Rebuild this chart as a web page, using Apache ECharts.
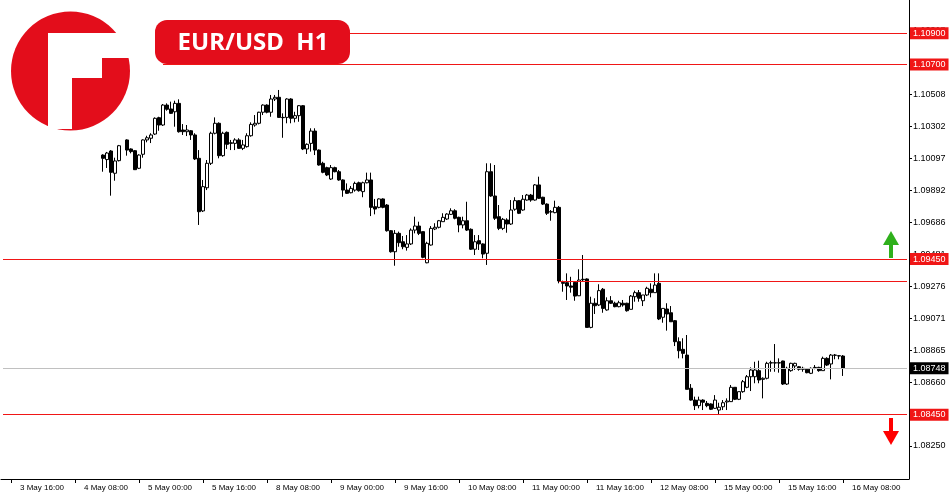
<!DOCTYPE html>
<html>
<head>
<meta charset="utf-8">
<title>EUR/USD H1</title>
<script src="https://cdn.jsdelivr.net/npm/echarts@6/dist/echarts.min.js"></script>
<style>
  html, body { margin: 0; padding: 0; background: #fff; }
  #chart { width: 950px; height: 500px; }
</style>
</head>
<body>
<div id="chart"></div>
<script>
// H1 bars, weekend hours skipped. slot 0 = 3 May 14:00, first bar sits in slot 25
var firstHour = Date.UTC(2023, 4, 3, 14);
var slotCount = 227;
var firstBarSlot = 25;

var opens = [1.10118,1.10089,1.10144,1.10001,1.10082,null,1.10215,1.10157,1.10146,1.10033,1.10123,1.10215,1.10226,1.10253,1.10358,1.10311,1.10439,1.10414,1.10396,1.10450,
  1.10279,1.10268,1.10274,1.10247,1.10097,1.09759,1.09908,1.10065,1.10258,1.10322,1.10114,1.10264,1.10197,1.10193,1.10215,1.10161,1.10172,1.10242,1.10311,1.10322,
  1.10393,1.10439,1.10393,1.10478,1.10489,1.10360,1.10360,1.10478,1.10354,1.10371,1.10435,1.10157,1.10193,1.10272,1.10150,1.10065,1.10037,1.09964,1.10037,1.10011,
  1.09958,1.09893,1.09876,1.09893,1.09940,1.09883,1.09940,1.09958,1.09786,1.09782,1.09836,1.09797,1.09632,1.09497,1.09615,1.09561,1.09525,1.09547,1.09636,1.09662,
  1.09626,1.09426,1.09540,1.09643,1.09654,1.09690,1.09707,1.09737,1.09760,1.09718,1.09669,1.09696,1.09641,1.09513,1.09568,1.09547,1.09487,1.10011,1.09855,1.09722,
  1.09647,1.09701,1.09675,1.09770,1.09825,1.09765,1.09829,1.09861,1.09829,1.09926,1.09847,1.09803,1.09754,1.09748,1.09782,1.09300,1.09298,1.09277,1.09300,1.09214,
  1.09320,1.09322,1.09011,1.09166,1.09155,1.09256,1.09123,1.09182,1.09166,1.09144,1.09166,1.09166,1.09127,1.09208,1.09234,1.09182,1.09219,1.09256,1.09234,1.09294,
  1.09076,1.09129,1.09105,1.09054,1.08919,1.08870,1.08833,1.08620,1.08544,1.08508,1.08544,1.08523,1.08519,1.08491,1.08480,1.08501,1.08532,1.08534,1.08626,1.08549,
  1.08598,1.08626,1.08694,1.08694,1.08733,1.08677,1.08684,1.08784,1.08782,1.08784,1.08795,1.08647,1.08733,1.08763,1.08758,1.08748,1.08742,1.08716,1.08754,1.08754,
  1.08733,1.08812,1.08776,1.08833,1.08829,1.08827];
var highs = [1.10123,1.10138,1.10150,1.10101,1.10183,null,1.10219,1.10161,1.10150,1.10123,1.10219,1.10242,1.10258,1.10360,1.10364,1.10446,1.10450,1.10461,1.10467,1.10476,
  1.10317,1.10311,1.10279,1.10258,1.10150,1.09958,1.10086,1.10268,1.10360,1.10328,1.10268,1.10269,1.10215,1.10226,1.10226,1.10215,1.10258,1.10328,1.10375,1.10396,
  1.10444,1.10444,1.10504,1.10504,1.10536,1.10386,1.10483,1.10483,1.10396,1.10439,1.10439,1.10193,1.10290,1.10290,1.10154,1.10075,1.10043,1.10054,1.10043,1.10022,
  1.09962,1.09936,1.09919,1.09947,1.09947,1.09947,1.10005,1.10005,1.09836,1.09840,1.09840,1.09803,1.09636,1.09636,1.09626,1.09598,1.09604,1.09647,1.09722,1.09690,
  1.09626,1.09561,1.09662,1.09680,1.09701,1.09744,1.09744,1.09776,1.09770,1.09722,1.09722,1.09818,1.09647,1.09604,1.09604,1.09551,1.10065,1.10065,1.10054,1.09797,
  1.09714,1.09712,1.09829,1.09847,1.09829,1.09861,1.09868,1.09868,1.09932,1.09979,1.09850,1.09808,1.09765,1.09825,1.09791,1.09311,1.09358,1.09336,1.09304,1.09384,
  1.09476,1.09326,1.09208,1.09198,1.09288,1.09264,1.09204,1.09212,1.09176,1.09182,1.09187,1.09169,1.09219,1.09247,1.09251,1.09219,1.09272,1.09294,1.09358,1.09358,
  1.09133,1.09166,1.09148,1.09058,1.08947,1.08941,1.08962,1.08647,1.08566,1.08566,1.08549,1.08538,1.08523,1.08576,1.08527,1.08544,1.08555,1.08641,1.08626,1.08598,
  1.08673,1.08705,1.08754,1.08790,1.08797,1.08690,1.08790,1.08797,1.08904,1.08812,1.08797,1.08758,1.08784,1.08784,1.08763,1.08758,1.08748,1.08754,1.08769,1.08758,
  1.08823,1.08819,1.08840,1.08840,1.08833,1.08833];
var lows = [1.10011,1.10035,1.09857,1.09953,1.10077,null,1.10114,1.10129,1.10022,1.10028,1.10101,1.10200,1.10195,1.10247,1.10274,1.10305,1.10403,1.10382,1.10300,1.10262,
  1.10247,1.10240,1.10215,1.10086,1.09669,1.09752,1.09893,1.10054,1.10251,1.10097,1.10107,1.10157,1.10150,1.10150,1.10157,1.10150,1.10166,1.10236,1.10300,1.10315,
  1.10375,1.10386,1.10364,1.10465,1.10358,1.10229,1.10322,1.10322,1.10328,1.10332,1.10150,1.10125,1.10140,1.10118,1.10050,1.10001,1.09983,1.09958,1.10007,1.09953,
  1.09850,1.09868,1.09872,1.09883,1.09883,1.09847,1.09936,1.09726,1.09737,1.09776,1.09776,1.09626,1.09491,1.09407,1.09529,1.09513,1.09504,1.09540,1.09615,1.09604,
  1.09455,1.09423,1.09536,1.09636,1.09647,1.09690,1.09701,1.09733,1.09705,1.09622,1.09647,1.09630,1.09508,1.09476,1.09508,1.09455,1.09412,1.09850,1.09701,1.09636,
  1.09636,1.09619,1.09669,1.09760,1.09739,1.09760,1.09825,1.09818,1.09825,1.09836,1.09797,1.09733,1.09696,1.09744,1.09294,1.09240,1.09187,1.09234,1.09182,1.09212,
  1.09304,1.09011,1.09005,1.09097,1.09148,1.09105,1.09118,1.09161,1.09140,1.09140,1.09144,1.09112,1.09127,1.09176,1.09176,1.09148,1.09212,1.09204,1.09234,1.09058,
  1.09041,1.08990,1.09047,1.08891,1.08812,1.08812,1.08613,1.08540,1.08480,1.08491,1.08480,1.08498,1.08480,1.08487,1.08448,1.08480,1.08480,1.08532,1.08544,1.08544,
  1.08591,1.08620,1.08602,1.08652,1.08652,1.08555,1.08677,1.08726,1.08726,1.08720,1.08641,1.08641,1.08726,1.08737,1.08733,1.08726,1.08716,1.08711,1.08742,1.08726,
  1.08733,1.08763,1.08677,1.08806,1.08806,1.08699];
var closes = [1.10097,1.10131,1.10007,1.10080,1.10178,null,1.10150,1.10140,1.10024,1.10118,1.10215,1.10229,1.10247,1.10354,1.10311,1.10439,1.10412,1.10386,1.10450,1.10268,
  1.10268,1.10279,1.10247,1.10093,1.09754,1.09915,1.10065,1.10258,1.10322,1.10114,1.10258,1.10187,1.10193,1.10215,1.10161,1.10183,1.10242,1.10315,1.10322,1.10393,
  1.10439,1.10393,1.10478,1.10489,1.10360,1.10358,1.10478,1.10354,1.10371,1.10435,1.10157,1.10187,1.10272,1.10150,1.10054,1.10007,1.09990,1.10037,1.10011,1.09958,
  1.09893,1.09872,1.09904,1.09936,1.09889,1.09940,1.09958,1.09782,1.09771,1.09836,1.09782,1.09632,1.09497,1.09615,1.09555,1.09529,1.09547,1.09636,1.09662,1.09615,
  1.09461,1.09551,1.09647,1.09654,1.09696,1.09718,1.09739,1.09760,1.09712,1.09669,1.09696,1.09636,1.09513,1.09561,1.09547,1.09482,1.10011,1.09855,1.09712,1.09647,
  1.09705,1.09675,1.09765,1.09825,1.09744,1.09834,1.09861,1.09829,1.09926,1.09840,1.09803,1.09744,1.09752,1.09782,1.09309,1.09294,1.09277,1.09269,1.09212,1.09315,
  1.09317,1.09011,1.09166,1.09150,1.09247,1.09133,1.09182,1.09166,1.09144,1.09169,1.09155,1.09118,1.09212,1.09234,1.09198,1.09219,1.09262,1.09234,1.09283,1.09065,
  1.09133,1.09097,1.09047,1.08919,1.08861,1.08844,1.08613,1.08544,1.08508,1.08544,1.08530,1.08508,1.08485,1.08544,1.08498,1.08527,1.08538,1.08626,1.08549,1.08598,
  1.08662,1.08694,1.08737,1.08737,1.08673,1.08684,1.08780,1.08782,1.08784,1.08782,1.08647,1.08748,1.08780,1.08780,1.08742,1.08742,1.08720,1.08748,1.08752,1.08733,
  1.08812,1.08769,1.08833,1.08832,1.08827,1.08748];

// right scale tick labels (some sit under the level tags)
var yTicks = [1.08250,1.08455,1.08660,1.08865,1.09071,1.09276,1.09481,1.09686,1.09892,1.10097,1.10302,1.10508,1.10713,1.10918];

// drawn levels
var upperLevels = [1.10900, 1.10700];
var keyLevels = [1.09450, 1.08450];
var innerLevel = 1.09310;
var lastPrice = 1.08748;

var months = ['Jan','Feb','Mar','Apr','May','Jun','Jul','Aug','Sep','Oct','Nov','Dec'];
function pad(n) { return n < 10 ? '0' + n : '' + n; }

var categories = [];
var t = firstHour;
while (categories.length < slotCount) {
  var d = new Date(t);
  var wd = d.getUTCDay();
  if (wd !== 0 && wd !== 6) {
    categories.push(d.getUTCDate() + ' ' + months[d.getUTCMonth()] + ' ' + pad(d.getUTCHours()) + ':00');
  }
  t += 3600000;
}

var candles = [];
for (var k = 0; k < slotCount; k++) {
  var i = k - firstBarSlot;
  if (i < 0 || i >= opens.length || opens[i] == null) {
    candles.push(['-', '-', '-', '-']);
  } else {
    candles.push([opens[i], closes[i], lows[i], highs[i]]);
  }
}

var RED = '#f01616';
var FONT = 'Liberation Sans';
var lastSlot = slotCount - 1;

function tag(text, bg) {
  return {
    show: true,
    position: 'end',
    distance: 3,
    formatter: text,
    backgroundColor: bg,
    color: '#fff',
    padding: [2, 3, 1, 3],
    fontSize: 9,
    fontFamily: FONT
  };
}

function labelEvery16(index) {
  return index % 16 === 2 && index < 220;
}

function level(fromSlot, v, color, label) {
  return [
    { coord: [fromSlot, v], lineStyle: { color: color, width: 1, type: 'solid' }, label: label || { show: false } },
    { coord: [lastSlot, v] }
  ];
}

var markLines = [];
upperLevels.forEach(function (v) {
  markLines.push(level(40, v, RED, tag(v.toFixed(5), RED)));
});
keyLevels.forEach(function (v) {
  markLines.push(level(0, v, RED, tag(v.toFixed(5), RED)));
});
markLines.push(level(firstBarSlot + 114, innerLevel, RED));
markLines.push(level(0, lastPrice, '#c0c0c0', tag(lastPrice.toFixed(5), '#000')));

var chart = echarts.init(document.getElementById('chart'), null, { renderer: 'canvas' });

var option = {
  animation: false,
  backgroundColor: '#fff',
  grid: { left: 1, right: 41, top: 0, bottom: 21, outerBoundsMode: 'none', containLabel: false },
  xAxis: {
    type: 'category',
    data: categories,
    boundaryGap: true,
    axisLine: { show: true, lineStyle: { color: '#000', width: 1 } },
    axisTick: { show: true, alignWithLabel: true, interval: labelEvery16, length: 4, lineStyle: { color: '#000' } },
    axisLabel: {
      interval: labelEvery16,
      align: 'left',
      padding: [0, 0, 0, 9],
      margin: 5,
      color: '#000',
      fontSize: 8,
      fontFamily: FONT
    },
    splitLine: { show: false }
  },
  yAxis: {
    type: 'value',
    position: 'right',
    min: 1.08037,
    max: 1.11114,
    axisLine: { show: true, lineStyle: { color: '#000', width: 1 } },
    axisTick: { show: true, length: 3, customValues: yTicks, lineStyle: { color: '#000' } },
    axisLabel: {
      customValues: yTicks,
      formatter: function (v) { return v.toFixed(5); },
      margin: 4,
      color: '#000',
      fontSize: 9,
      fontFamily: FONT
    },
    splitLine: { show: false }
  },
  series: [
    {
      type: 'candlestick',
      data: candles,
      barWidth: 3,
      silent: true,
      itemStyle: {
        color: '#fff',
        color0: '#000',
        borderColor: '#000',
        borderColor0: '#000',
        borderWidth: 1
      },
      markLine: {
        silent: true,
        symbol: ['none', 'none'],
        animation: false,
        data: markLines
      }
    }
  ],
  graphic: [
    // logo
    { type: 'circle', shape: { cx: 70.5, cy: 71, r: 59.5 }, style: { fill: '#e30d1b' }, z: 10 },
    { type: 'rect', shape: { x: 48, y: 33, width: 90, height: 25 }, style: { fill: '#fff' }, z: 11 },
    { type: 'rect', shape: { x: 48, y: 33, width: 24, height: 96 }, style: { fill: '#fff' }, z: 11 },
    { type: 'rect', shape: { x: 72, y: 58, width: 30, height: 20 }, style: { fill: '#fff' }, z: 11 },
    // title badge
    { type: 'rect', shape: { x: 155, y: 20, width: 195, height: 44, r: 12 }, style: { fill: '#e30d1b' }, z: 10 },
    {
      type: 'text', x: 253, y: 43, z: 11,
      style: { text: 'EUR/USD  H1', fill: '#fff', font: 'bold 24px "Noto Sans"', textAlign: 'center', textVerticalAlign: 'middle' }
    },
    // up arrow
    { type: 'polygon', shape: { points: [[891, 231], [899, 245], [883, 245]] }, style: { fill: '#2fb01c' }, z: 10 },
    { type: 'rect', shape: { x: 889, y: 245, width: 4, height: 13 }, style: { fill: '#2fb01c' }, z: 10 },
    // down arrow
    { type: 'rect', shape: { x: 889, y: 418, width: 4, height: 13 }, style: { fill: '#f00' }, z: 10 },
    { type: 'polygon', shape: { points: [[883, 431], [899, 431], [891, 445]] }, style: { fill: '#f00' }, z: 10 }
  ]
};

chart.setOption(option);
</script>
</body>
</html>
